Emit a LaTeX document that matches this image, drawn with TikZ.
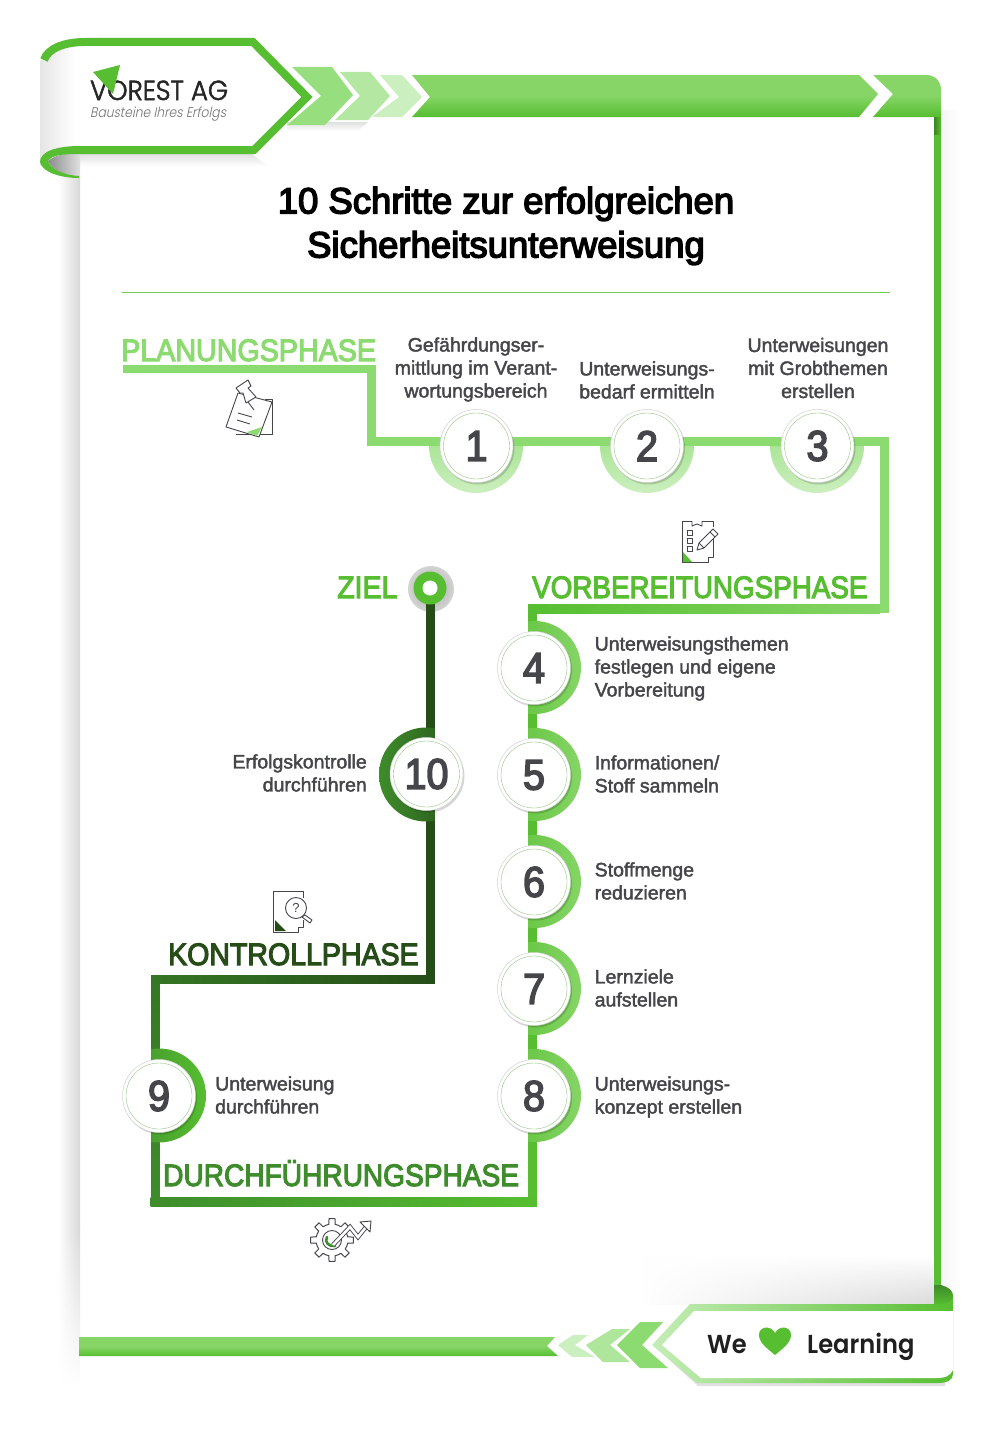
\documentclass[tikz,border=0pt]{standalone}
\usepackage{fontspec}
\usepackage{graphicx}
\usetikzlibrary{shadows,calc,fadings}
\setmainfont{Liberation Sans}
\newfontfamily\bodyf[FakeStretch=1.0,FakeBold=2]{Liberation Sans}
\newfontfamily\headf[FakeStretch=0.92,FakeBold=3.5]{Liberation Sans}
\newfontfamily\titlef[FakeStretch=1.0,FakeBold=4]{Liberation Sans}
\newfontfamily\logof[FakeStretch=0.94,FakeBold=2]{Poppins Light}
\newfontfamily\tagf[FakeSlant=0.2,FakeStretch=0.88]{Poppins Light}
\newfontfamily\lovef[FakeStretch=0.93]{Poppins SemiBold}
\definecolor{gL}{HTML}{8CDB70}
\definecolor{gM}{HTML}{56BE30}
\definecolor{gT}{HTML}{86D566}
\definecolor{gD}{HTML}{3E8C2B}
\definecolor{gK}{HTML}{264D18}
\definecolor{ink}{HTML}{45464A}
\tikzset{
 phase/.style={anchor=base west,inner sep=0pt,font=\headf\fontsize{31}{31}\selectfont},
 body/.style={inner sep=0pt,text=ink,font=\bodyf\fontsize{19.5}{23}\selectfont},
 title/.style={inner sep=0pt,align=center,text=black,font=\titlef\fontsize{36.5}{44}\selectfont},
 stepdisc/.style={circle,minimum size=73pt,inner sep=0pt,fill=white,draw=black!18,line width=.5pt,text=ink,
   font=\headf\fontsize{43}{43}\selectfont,
   general shadow={fill=black,opacity=.16,shadow xshift=1.5pt,shadow yshift=-2pt}},
 hairring/.style={draw=gL!70!gray,line width=.35pt},
 icon/.style={draw=ink,line width=.9pt,line join=round},
 band/.style={top color=gT,bottom color=gM,middle color=gT},
}
\newcommand{\stepN}[4]{\node[stepdisc] (#1) at (#2,#3) {#4};\draw[hairring] (#1) circle (33pt);}
\begin{document}
\begin{tikzpicture}[x=1pt,y=-1pt]
\useasboundingbox (0,0) rectangle (1000,1429);
\fill[white] (0,0) rectangle (1000,1429);
% ----- page shadows
\shade[left color=white,right color=black!15] (58,175) rectangle (80,1230);
\shade[left color=white,right color=black!15,path fading=south] (58,1230) rectangle (80,1385);
\shade[left color=black!4,right color=white] (941,110) rectangle (960,1290);
\shade[top color=white,bottom color=black!14,path fading=west] (640,1255) rectangle (934,1304);
% ----- top band
\coordinate (bandA) at (412,75);
\shade[band] (bandA) -- (859,75) -- (878,94) -- (859,117) -- (412,117) -- (430,97) -- cycle;
\shade[band] (873,75) -- (926,75) .. controls (935,75) and (941,81) .. (941,90) -- (941,117) -- (873,117) -- (893,94) -- cycle;
\shade[left color=gM!70!black,right color=gM] (934,117) rectangle (941,135);
\fill[gM] (934,135) rectangle (941,1290);
% chevrons
\shade[top color=black!12,bottom color=white] (287,122) -- (368,122) -- (358,131) -- (287,131) -- cycle;
\fill[gL!90!white] (292,67) -- (332,67) -- (353,95) -- (325,125) -- (287,125) -- (321,96) -- cycle;
\fill[gL!65!white] (340,72) -- (370,72) -- (390,96) -- (368,120) -- (335,120) -- (360,96) -- cycle;
\fill[gL!45!white] (380,75) -- (402,75) -- (422,97) -- (402,117) -- (372,117) -- (399,97) -- cycle;
% ----- logo ribbon
\shade[top color=black!12,bottom color=white] (80,154) -- (252,154) -- (268,166) -- (80,166) -- cycle;
\shade[left color=black!10,right color=white] (40,62) .. controls (45,50) and (60,45) .. (75,45) -- (75,165) -- (40,165) -- cycle;
\fill[white] (75,45) -- (250,45) -- (302,97) -- (250,147) -- (75,147) -- cycle;
\shade[left color=black!45,right color=black!12] (48,161) .. controls (55,155) and (65,153) .. (80,153) -- (80,176) .. controls (65,176) and (52,170) .. cycle;
\draw[gM,line width=8pt,miter limit=10] (44,60) .. controls (48,48) and (65,42) .. (85,42) -- (253,42) -- (307,97) -- (254,150) -- (80,150);
\fill[gM] (80,146) .. controls (55,146) and (40,152) .. (40,162) .. controls (42,172) and (60,178) .. (79,178) -- (79,176) .. controls (62,175) and (50,168) .. (48,161) .. controls (52,155) and (62,154) .. (80,154) -- cycle;
% logo
\node[anchor=base west,inner sep=0pt,text=black!85,font=\logof\fontsize{27.5}{27.5}\selectfont] (logo) at (90,100) {VOREST AG};
\fill[gM] (93,72) -- (120,65) -- (113,94) -- cycle;
\node[anchor=base west,inner sep=0pt,text=black!55,font=\tagf\fontsize{14}{14}\selectfont] (tag) at (90,117) {Bausteine Ihres Erfolgs};
% ----- title
\node[title] (ttl) at (506,226) {10 Schritte zur erfolgreichen\\Sicherheitsunterweisung};
\coordinate (ruleA) at (122,292.5); \coordinate (ruleB) at (890,292.5);
\draw[gM!80!white,line width=.7pt] (ruleA) -- (ruleB);
% ----- named corner points
\coordinate (p0) at (123,369);
\coordinate (p1) at (371.5,369);
\coordinate (p2) at (371.5,441.5);
\coordinate (p3) at (884.5,441.5);
\coordinate (p4) at (884.5,608.5);
\coordinate (p5) at (532.5,608.5);
\coordinate (p6) at (532.5,1201.5);
\coordinate (p7) at (155,1201.5);
\coordinate (p8) at (155,979);
\coordinate (p9) at (430,979);
\coordinate (p10) at (430,588);
% goal halo
\shade[inner color=black!34,outer color=black!17] (431,589) circle (23pt);
% planning rings
\foreach \cx in {476,647,817}{
 \begin{scope}
 \clip (\cx-50,437) rectangle (\cx+50,500);
 \shade[top color=gL,bottom color=gL!45!white] (\cx,446) circle (47pt);
 \end{scope}}
% lines
\draw[gL,line width=8.5pt,line join=miter] (p0) -- (p1) -- (p2) -- (p3) -- (p4);
\shade[left color=gM,right color=gT] (528,604) rectangle (880,613);
\fill[gL] (880,560) rectangle (889,613);
\fill[gM] (528,604) rectangle (537,1201);
\shade[left color=gD,right color=gM] (150.5,1197) rectangle (537,1206);
\shade[bottom color=gD,top color=gD!85!black] (151,975) rectangle (159.5,1206);
\shade[left color=gD!85!black,right color=gK] (151,975) rectangle (434.5,983.5);
\fill[gK] (426,604) rectangle (434.5,983.5);
% right rings
\foreach \cy in {667.5,774.5,881.5,988.5,1095.5}{
 \begin{scope}
 \clip (528,\cy-50) rectangle (585,\cy+50);
 \shade[left color=gM,right color=gT] (534.5,\cy) circle (46.5pt);
 \end{scope}}
\begin{scope}
 \clip (151,1045) rectangle (210,1145);
 \shade[left color=gD,right color=gM] (159,1095.5) circle (47pt);
\end{scope}
\begin{scope}
 \clip (375,725) rectangle (434.5,825);
 \shade[left color=gD,right color=gK] (426,774.5) circle (47pt);
\end{scope}
% step discs
\stepN{n1}{476.5}{446}{1}
\stepN{n2}{647}{446}{2}
\stepN{n3}{817.5}{446}{3}
\stepN{n4}{534}{668}{4}
\stepN{n5}{534}{775}{5}
\stepN{n6}{534}{882}{6}
\stepN{n7}{534}{989}{7}
\stepN{n8}{534}{1096}{8}
\stepN{n9}{159}{1096}{9}
\stepN{n10}{426.5}{774}{10}
% goal
\node[circle,fill=gM,minimum size=33pt,inner sep=0pt] (goal) at (430,588) {};
\fill[white] (goal) circle (7.5pt);
% ----- phase labels
\node[phase,text=gL] (ph1) at (121,361) {\scalebox{1.005}[1]{PLANUNGSPHASE}};
\node[phase,text=gM] (ph2) at (532,598) {\scalebox{.975}[1]{VORBEREITUNGSPHASE}};
\node[phase,text=gM] (ph0) at (337,598) {ZIEL};
\node[phase,text=gK] (ph4) at (168,965) {KONTROLLPHASE};
\node[phase,text=gD] (ph3) at (163,1186) {\scalebox{.985}[1]{DURCHFÜHRUNGSPHASE}};
% ----- step texts
\node[body,align=center] (t1) at (476,369.5) {Gefährdungser-\\mittlung im Verant-\\wortungsbereich};
\node[body,align=center] (t2) at (647,380) {Unterweisungs-\\bedarf ermitteln};
\node[body,align=center] (t3) at (818,368) {Unterweisungen\\mit Grobthemen\\erstellen};
\node[body,align=left,anchor=west] (t4) at (594.5,668.5) {Unterweisungsthemen\\festlegen und eigene\\Vorbereitung};
\node[body,align=left,anchor=west] (t5) at (594.5,774) {Informationen/\\Stoff sammeln};
\node[body,align=left,anchor=west] (t6) at (594.5,881) {Stoffmenge\\reduzieren};
\node[body,align=left,anchor=west] (t7) at (594.5,988) {Lernziele\\aufstellen};
\node[body,align=left,anchor=west] (t8) at (594.5,1097) {Unterweisungs-\\konzept erstellen};
\node[body,align=left,anchor=west] (t9) at (215,1095) {Unterweisung\\durchführen};
\node[body,align=right,anchor=east] (t10) at (367,773) {Erfolgskontrolle\\durchführen};
% ----- bottom band and ribbon
\shade[band] (79,1337) -- (555,1337) -- (547,1346) -- (558,1356) -- (79,1356) -- cycle;
\fill[gL!45!white] (573,1335) -- (588,1335) -- (575,1345) -- (595,1357) -- (572,1357) -- (558,1345) -- cycle;
\fill[gL!70!white] (612,1329) -- (630,1329) -- (610,1345) -- (630,1362) -- (603,1362) -- (586,1345) -- cycle;
\fill[gL] (640,1322) -- (663,1322) -- (642,1345) -- (668,1368) -- (640,1368) -- (617,1345) -- cycle;
% ribbon
\fill[black!12] (655,1347) -- (698,1386) -- (945,1386) -- (945,1370) -- cycle;
\shade[left color=gL!50!white,right color=gM] (690,1304) -- (938,1304) .. controls (948,1304) and (953,1298) .. (953,1292) -- (953,1374) .. controls (953,1380) and (947,1383) .. (938,1383) -- (697,1383) -- (652,1345) -- cycle;
\fill[white] (694,1311) -- (953,1311) -- (953,1370) .. controls (950,1376) and (945,1378) .. (938,1378) -- (701,1378) -- (662,1345) -- cycle;
\shade[top color=gD,bottom color=gM] (934,1285) -- (941,1285) .. controls (948,1287) and (953,1290) .. (953,1296) .. controls (951,1303) and (945,1305) .. (934,1304) -- cycle;
\node[anchor=base west,inner sep=0pt,text=black!88,font=\lovef\fontsize{26}{26}\selectfont] (we) at (707,1353) {We};
\node[anchor=base west,inner sep=0pt,text=black!88,font=\lovef\fontsize{26}{26}\selectfont] (lr) at (807,1353) {Learning};
\fill[gM] (775,1355) .. controls (768,1349) and (759,1343) .. (759,1335) .. controls (759,1326) and (771,1325) .. (775,1333) .. controls (779,1325) and (791,1326) .. (791,1335) .. controls (791,1343) and (782,1349) .. (775,1355) -- cycle;
% ----- icon: pinned note
\begin{scope}
\draw[icon] (265,399) -- (272,399) -- (272,434) -- (236,434);
\draw[icon,fill=white] (238,393) -- (272,402) -- (259,437) -- (226,427) -- cycle;
\fill[gL] (247,432) -- (262,427) -- (257,436) -- cycle;
\draw[icon] (238,413) -- (252,417) (237,420) -- (250,424);
\draw[icon,fill=white] (236,388) -- (248,380) -- (251,386) -- (248,388) -- (256,397) -- (246,403) -- (243,393) -- (240,393) -- cycle;
\draw[icon] (248,402) -- (254,410);
\end{scope}
% ----- icon: checklist
\begin{scope}
\draw[icon] (692,521) -- (682,521) -- (682,562) -- (708,562) -- (708,557) -- (713,557) -- (713,535);
\draw[icon] (702,521) -- (713,521) -- (713,527);
\draw[icon] (692,521) -- (692,526) -- (697,524) -- (702,526) -- (702,521);
\draw[icon,line width=.7pt] (687,530) rectangle (692,535) (687,538) rectangle (692,543) (687,546) rectangle (692,551);
\fill[gM] (683,552) -- (683,562) -- (692,562) -- cycle;
\draw[icon,fill=white] (697,550) -- (699,543) -- (713,529) -- (718,534) -- (704,548) -- cycle;
\draw[icon] (699,543) -- (704,548) (710,532) -- (715,537);
\end{scope}
% ----- icon: question document
\begin{scope}
\draw[icon] (303,898) -- (303,891) -- (273,891) -- (273,932) -- (298,932) -- (298,927) -- (303,927) -- (303,920);
\fill[gK] (275,920) -- (275,931) -- (286,931) -- cycle;
\draw[icon,fill=white] (296,908) circle (10.5pt);
\draw[icon,fill=white] (302,917) -- (305,915) -- (312,920) -- (310,923) -- cycle;
\node[inner sep=0pt,text=ink,font=\fontsize{13}{13}\selectfont] (qm) at (296,908) {?};
\end{scope}
% ----- icon: gear with arrow
\begin{scope}[shift={(332,1240)}]
\foreach \a in {0,45,...,315}{
 \draw[icon,line width=1pt] (\a-22.5:16) -- (\a-11:16) -- (\a-8:21.5) -- (\a+8:21.5) -- (\a+11:16) -- (\a+22.5:16);}
\draw[icon] (0,0) circle (9.5pt);
\draw[gD,line width=2.6pt,line cap=round] (-5,-3) .. controls (-8,2) and (-3,7) .. (3,6);
\draw[ink,line width=4.4pt,line join=miter] (1,5) -- (18,-13) -- (26,-3) -- (34,-13);
\draw[white,line width=2.6pt,line join=miter] (1,5) -- (18,-13) -- (26,-3) -- (34,-13);
\draw[icon,fill=white] (28,-18) -- (39,-19) -- (38,-8) -- cycle;
\end{scope}
\end{tikzpicture}
\end{document}
